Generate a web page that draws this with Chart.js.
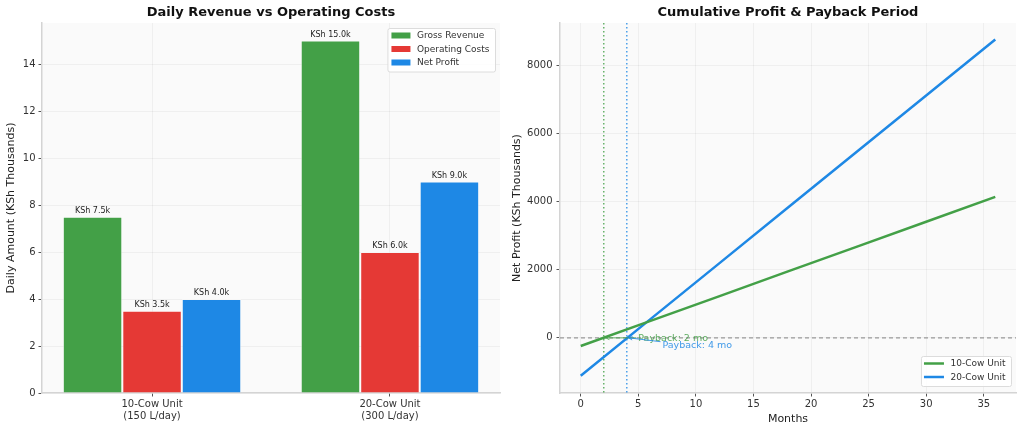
<!DOCTYPE html>
<html>
<head>
<meta charset="utf-8">
<script src="https://cdn.jsdelivr.net/npm/chart.js@4.4.0/dist/chart.umd.min.js"></script>
<style>
body { margin: 0; background: #fff; }
canvas { position: absolute; top: 0; }
#barChart { left: 0; }
#profitChart { left: 512px; }
</style>
</head>
<body>
<canvas id="barChart" width="512" height="433"></canvas>
<canvas id="profitChart" width="512" height="433"></canvas>
<script>
// left panel: daily amounts, KSh thousands
var units = [['10-Cow Unit', '(150 L/day)'], ['20-Cow Unit', '(300 L/day)']];
var grossRevenue = [7.5, 15.0];
var operatingCosts = [3.5, 6.0];
var netProfit = [4.0, 9.0];

// right panel: cumulative net profit, KSh thousands
var months = [0, 6, 12, 18, 24, 30, 36];
var profit10 = [-240, 490, 1220, 1950, 2680, 3410, 4140];
var profit20 = [-1110, 535, 2180, 3825, 5470, 7115, 8760];
var profitTicks = [0, 2000, 4000, 6000, 8000];
var paybackMonths = [2, 4];
var paybackLabels = ['Payback: 2 mo', 'Payback: 4 mo'];

var GREEN = '#43A047';
var RED = '#E53935';
var BLUE = '#1E88E5';
var GRID = 'rgba(0,0,0,0.045)';
var SPINE = '#d4d4d4';
var TICK = '#555';
var FONT = "'DejaVu Sans', sans-serif";

Chart.defaults.font.family = FONT;
Chart.defaults.color = '#333';

function pointsOf(xs, ys) {
    return ys.map(function(v, i) { return {x: xs[i], y: v}; });
}

var panelBackground = {
    id: 'panelBackground',
    beforeDraw: function(chart) {
        var ctx = chart.ctx, a = chart.chartArea;
        ctx.save();
        ctx.fillStyle = '#fff';
        ctx.fillRect(0, 0, chart.width, chart.height);
        ctx.fillStyle = '#fafafa';
        ctx.fillRect(a.left, a.top, a.right - a.left, a.bottom - a.top);
        ctx.restore();
    }
};

function panelTitle(text) {
    return {
        id: 'panelTitle',
        afterDraw: function(chart) {
            var ctx = chart.ctx, a = chart.chartArea;
            ctx.save();
            ctx.font = 'bold 13px ' + FONT;
            ctx.fillStyle = '#111';
            ctx.textAlign = 'center';
            ctx.textBaseline = 'middle';
            ctx.fillText(text, (a.left + a.right) / 2, 13);
            ctx.restore();
        }
    };
}

// legend box drawn inside the plot, like matplotlib
function drawLegend(ctx, items, right, top, bottom, kind) {
    ctx.save();
    ctx.font = '9px ' + FONT;
    var w = 0;
    items.forEach(function(it) { w = Math.max(w, ctx.measureText(it.label).width); });
    var rowH = 13.5;
    var boxW = 30 + w + 5;
    var boxH = items.length * rowH + 3;
    var x = right - boxW;
    var y = top != null ? top : bottom - boxH;
    ctx.fillStyle = 'rgba(255,255,255,0.85)';
    ctx.strokeStyle = '#dcdcdc';
    ctx.lineWidth = 1;
    ctx.beginPath();
    ctx.roundRect(x + 0.5, y + 0.5, boxW, boxH, 2);
    ctx.fill();
    ctx.stroke();
    items.forEach(function(it, i) {
        var cy = y + 7.5 + i * rowH;
        if (kind === 'patch') {
            ctx.fillStyle = it.color;
            ctx.fillRect(x + 4, cy - 3, 19, 6);
        } else {
            ctx.strokeStyle = it.color;
            ctx.lineWidth = 2.5;
            ctx.beginPath();
            ctx.moveTo(x + 3, cy);
            ctx.lineTo(x + 23, cy);
            ctx.stroke();
        }
        ctx.fillStyle = '#333';
        ctx.textAlign = 'left';
        ctx.textBaseline = 'middle';
        ctx.fillText(it.label, x + 29.5, cy + 0.5);
    });
    ctx.restore();
}

var barValueLabels = {
    id: 'barValueLabels',
    afterDatasetsDraw: function(chart) {
        var ctx = chart.ctx;
        ctx.save();
        ctx.font = '8px ' + FONT;
        ctx.fillStyle = '#222';
        ctx.textAlign = 'center';
        ctx.textBaseline = 'bottom';
        chart.data.datasets.forEach(function(ds, i) {
            chart.getDatasetMeta(i).data.forEach(function(bar, j) {
                ctx.fillText('KSh ' + ds.data[j].y.toFixed(1) + 'k', bar.x, bar.y - 2);
            });
        });
        ctx.restore();
    }
};

var barLegend = {
    id: 'barLegend',
    afterDraw: function(chart) {
        var a = chart.chartArea;
        var items = chart.data.datasets.map(function(ds) {
            return {label: ds.label, color: ds.backgroundColor};
        });
        drawLegend(chart.ctx, items, a.right - 5, a.top + 5, null, 'patch');
    }
};

new Chart(document.getElementById('barChart'), {
    type: 'bar',
    data: {
        datasets: [
            {label: 'Gross Revenue', data: pointsOf([0, 1], grossRevenue), backgroundColor: GREEN},
            {label: 'Operating Costs', data: pointsOf([0, 1], operatingCosts), backgroundColor: RED},
            {label: 'Net Profit', data: pointsOf([0, 1], netProfit), backgroundColor: BLUE}
        ]
    },
    options: {
        responsive: false,
        animation: false,
        layout: {padding: {top: 23, right: 12, left: 0, bottom: 0}},
        datasets: {
            bar: {
                categoryPercentage: 0.75,
                barPercentage: 1,
                borderColor: 'rgba(255,255,255,0.45)',
                borderWidth: 1
            }
        },
        plugins: {legend: {display: false}, tooltip: {enabled: false}},
        scales: {
            x: {
                type: 'linear',
                min: -0.4625,
                max: 1.4625,
                offset: false,
                afterBuildTicks: function(scale) {
                    scale.ticks = units.map(function(u, i) { return {value: i}; });
                },
                afterFit: function(scale) { scale.height = 40; },
                grid: {offset: false, color: GRID, tickColor: TICK, tickLength: 3.5},
                border: {color: SPINE, width: 1.5},
                ticks: {
                    callback: function(v) { return units[v]; },
                    font: {size: 10},
                    color: '#333',
                    padding: 2,
                    maxRotation: 0,
                    autoSkip: false
                }
            },
            y: {
                min: 0,
                max: 15.75,
                afterFit: function(scale) { scale.width = 42; },
                grid: {color: GRID, tickColor: TICK, tickLength: 3.5},
                border: {color: SPINE, width: 1.5},
                ticks: {stepSize: 2, includeBounds: false, font: {size: 10}, color: '#333', padding: 3},
                title: {
                    display: true,
                    text: 'Daily Amount (KSh Thousands)',
                    font: {size: 11},
                    color: '#222',
                    padding: {top: 5, bottom: 0}
                }
            }
        }
    },
    plugins: [panelBackground, panelTitle('Daily Revenue vs Operating Costs'), barValueLabels, barLegend]
});

var colorsByUnit = [GREEN, BLUE];

var paybackMarks = {
    id: 'paybackMarks',
    beforeDatasetsDraw: function(chart) {
        var ctx = chart.ctx, a = chart.chartArea;
        var xs = chart.scales.x, ys = chart.scales.y;
        ctx.save();
        // break-even line
        var y0 = ys.getPixelForValue(0);
        ctx.strokeStyle = '#999';
        ctx.lineWidth = 1.2;
        ctx.setLineDash([4, 3]);
        ctx.beginPath();
        ctx.moveTo(a.left, y0);
        ctx.lineTo(a.right, y0);
        ctx.stroke();
        // payback verticals
        ctx.lineWidth = 1.5;
        ctx.setLineDash([1.5, 2.5]);
        ctx.globalAlpha = 0.8;
        paybackMonths.forEach(function(m, i) {
            var px = xs.getPixelForValue(m);
            ctx.strokeStyle = colorsByUnit[i];
            ctx.beginPath();
            ctx.moveTo(px, a.top);
            ctx.lineTo(px, a.bottom);
            ctx.stroke();
        });
        ctx.restore();
    },
    afterDatasetsDraw: function(chart) {
        var ctx = chart.ctx;
        var xs = chart.scales.x, ys = chart.scales.y;
        var textAt = [[5, -30], [7.1, -230]];
        ctx.save();
        ctx.font = '9.5px ' + FONT;
        ctx.textAlign = 'left';
        ctx.textBaseline = 'middle';
        paybackMonths.forEach(function(m, i) {
            var tx = xs.getPixelForValue(textAt[i][0]);
            var ty = ys.getPixelForValue(textAt[i][1]);
            var px = xs.getPixelForValue(m) + 2;
            var py = ys.getPixelForValue(0);
            ctx.globalAlpha = 0.85;
            ctx.fillStyle = colorsByUnit[i];
            ctx.fillText(paybackLabels[i], tx, ty);
            // arrow pointing at break-even
            var sx = tx - 2, sy = ty - (i === 0 ? 1 : 4);
            var ang = Math.atan2(py - sy, px - sx);
            ctx.strokeStyle = colorsByUnit[i];
            ctx.lineWidth = 1;
            ctx.beginPath();
            ctx.moveTo(sx, sy);
            ctx.lineTo(px, py);
            ctx.moveTo(px - 4 * Math.cos(ang - 0.45), py - 4 * Math.sin(ang - 0.45));
            ctx.lineTo(px, py);
            ctx.lineTo(px - 4 * Math.cos(ang + 0.45), py - 4 * Math.sin(ang + 0.45));
            ctx.stroke();
        });
        ctx.restore();
    }
};

var lineLegend = {
    id: 'lineLegend',
    afterDraw: function(chart) {
        var a = chart.chartArea;
        var items = chart.data.datasets.map(function(ds) {
            return {label: ds.label, color: ds.borderColor};
        });
        drawLegend(chart.ctx, items, a.right - 5, null, a.bottom - 7, 'line');
    }
};

new Chart(document.getElementById('profitChart'), {
    type: 'line',
    data: {
        datasets: [
            {label: '10-Cow Unit', data: pointsOf(months, profit10), borderColor: GREEN},
            {label: '20-Cow Unit', data: pointsOf(months, profit20), borderColor: BLUE}
        ]
    },
    options: {
        responsive: false,
        animation: false,
        layout: {padding: {top: 23, right: 8, left: 0, bottom: 0}},
        datasets: {line: {borderWidth: 2.5, pointRadius: 0, tension: 0, fill: false}},
        plugins: {legend: {display: false}, tooltip: {enabled: false}},
        scales: {
            x: {
                type: 'linear',
                min: -1.8,
                max: 37.8,
                afterFit: function(scale) { scale.height = 40; },
                grid: {color: GRID, tickColor: TICK, tickLength: 3.5},
                border: {color: SPINE, width: 1.5},
                ticks: {stepSize: 5, includeBounds: false, font: {size: 10}, color: '#333', padding: 2},
                title: {
                    display: true,
                    text: 'Months',
                    font: {size: 11},
                    color: '#222',
                    padding: {top: 0, bottom: 7}
                }
            },
            y: {
                min: -1619,
                max: 9244,
                afterBuildTicks: function(scale) {
                    scale.ticks = profitTicks.map(function(v) { return {value: v}; });
                },
                afterFit: function(scale) { scale.width = 48; },
                grid: {color: GRID, tickColor: TICK, tickLength: 3.5},
                border: {color: SPINE, width: 1.5},
                ticks: {
                    callback: function(v) { return String(v); },
                    font: {size: 10},
                    color: '#333',
                    padding: 4
                },
                title: {
                    display: true,
                    text: 'Net Profit (KSh Thousands)',
                    font: {size: 11, lineHeight: 1},
                    color: '#222',
                    padding: {top: 0, bottom: 0}
                }
            }
        }
    },
    plugins: [panelBackground, panelTitle('Cumulative Profit & Payback Period'), paybackMarks, lineLegend]
});
</script>
</body>
</html>
